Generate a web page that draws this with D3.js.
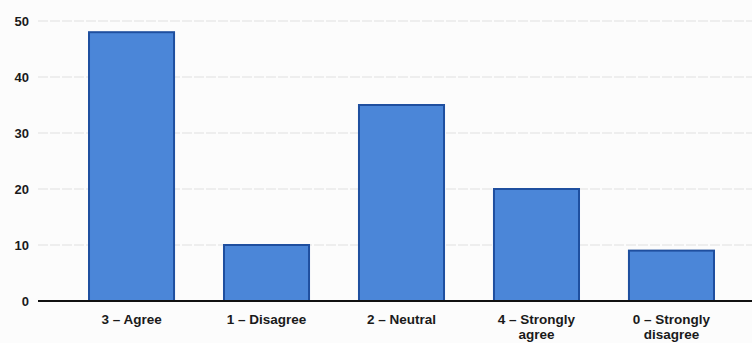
<!DOCTYPE html>
<html><head><meta charset="utf-8">
<script src="https://cdn.jsdelivr.net/npm/d3@7"></script>
<style>body{margin:0;background:#fcfcfc}svg{display:block}</style>
</head><body>
<svg id="c" width="752" height="343"></svg>
<script>
const categories = ["3 – Agree", "1 – Disagree", "2 – Neutral", "4 – Strongly agree", "0 – Strongly disagree"];
const labelLines = [["3 – Agree"], ["1 – Disagree"], ["2 – Neutral"], ["4 – Strongly", "agree"], ["0 – Strongly", "disagree"]];
const values = [48, 10, 35, 20, 9];
const yTicks = [0, 10, 20, 30, 40, 50];

const svg = d3.select("#c");
const y = d3.scaleLinear().domain([0, 50]).range([301, 21]);
const x = d3.scaleBand().domain(categories).range([45, 758]).paddingInner(0.37).paddingOuter(0.326);

// gridlines
svg.append("g").selectAll("line").data(yTicks.filter(d => d > 0)).join("line")
  .attr("x1", 38).attr("x2", 752)
  .attr("y1", d => y(d)).attr("y2", d => y(d))
  .attr("stroke", "#e0e0e0").attr("stroke-width", 1).attr("stroke-dasharray", "10,2");

// y axis labels
const yAxis = d3.axisLeft(y).tickValues(yTicks).tickSize(0).tickPadding(0);
const gy = svg.append("g").attr("transform", "translate(29,0)").call(yAxis);
gy.select(".domain").remove();
gy.selectAll("text").attr("font-family", "Liberation Sans, Arial, sans-serif")
  .attr("font-weight", "bold").attr("font-size", 13).attr("fill", "#1a1a1a");

// bars
svg.append("g").selectAll("rect").data(values).join("rect")
  .attr("x", (d, i) => x(categories[i]))
  .attr("y", d => y(d))
  .attr("width", x.bandwidth())
  .attr("height", d => y(0) - y(d))
  .attr("fill", "#4b86d8").attr("stroke", "#1f4f9f").attr("stroke-width", 2);

// baseline
svg.append("line").attr("x1", 38).attr("x2", 752).attr("y1", y(0)).attr("y2", y(0))
  .attr("stroke", "#111").attr("stroke-width", 2);

// x labels
const xAxis = d3.axisBottom(x).tickSize(0).tickFormat("");
const gx = svg.append("g").attr("transform", `translate(0,${y(0)})`).call(xAxis);
gx.select(".domain").remove();
gx.selectAll(".tick").each(function(d, i) {
  const t = d3.select(this).append("text")
    .attr("text-anchor", "middle")
    .attr("font-family", "Liberation Sans, Arial, sans-serif")
    .attr("font-weight", "bold").attr("font-size", 13.5).attr("fill", "#1a1a1a");
  labelLines[i].forEach((ln, j) => {
    t.append("tspan").attr("x", 0).attr("y", 23 + j * 15).text(ln);
  });
});
</script>
</body></html>
